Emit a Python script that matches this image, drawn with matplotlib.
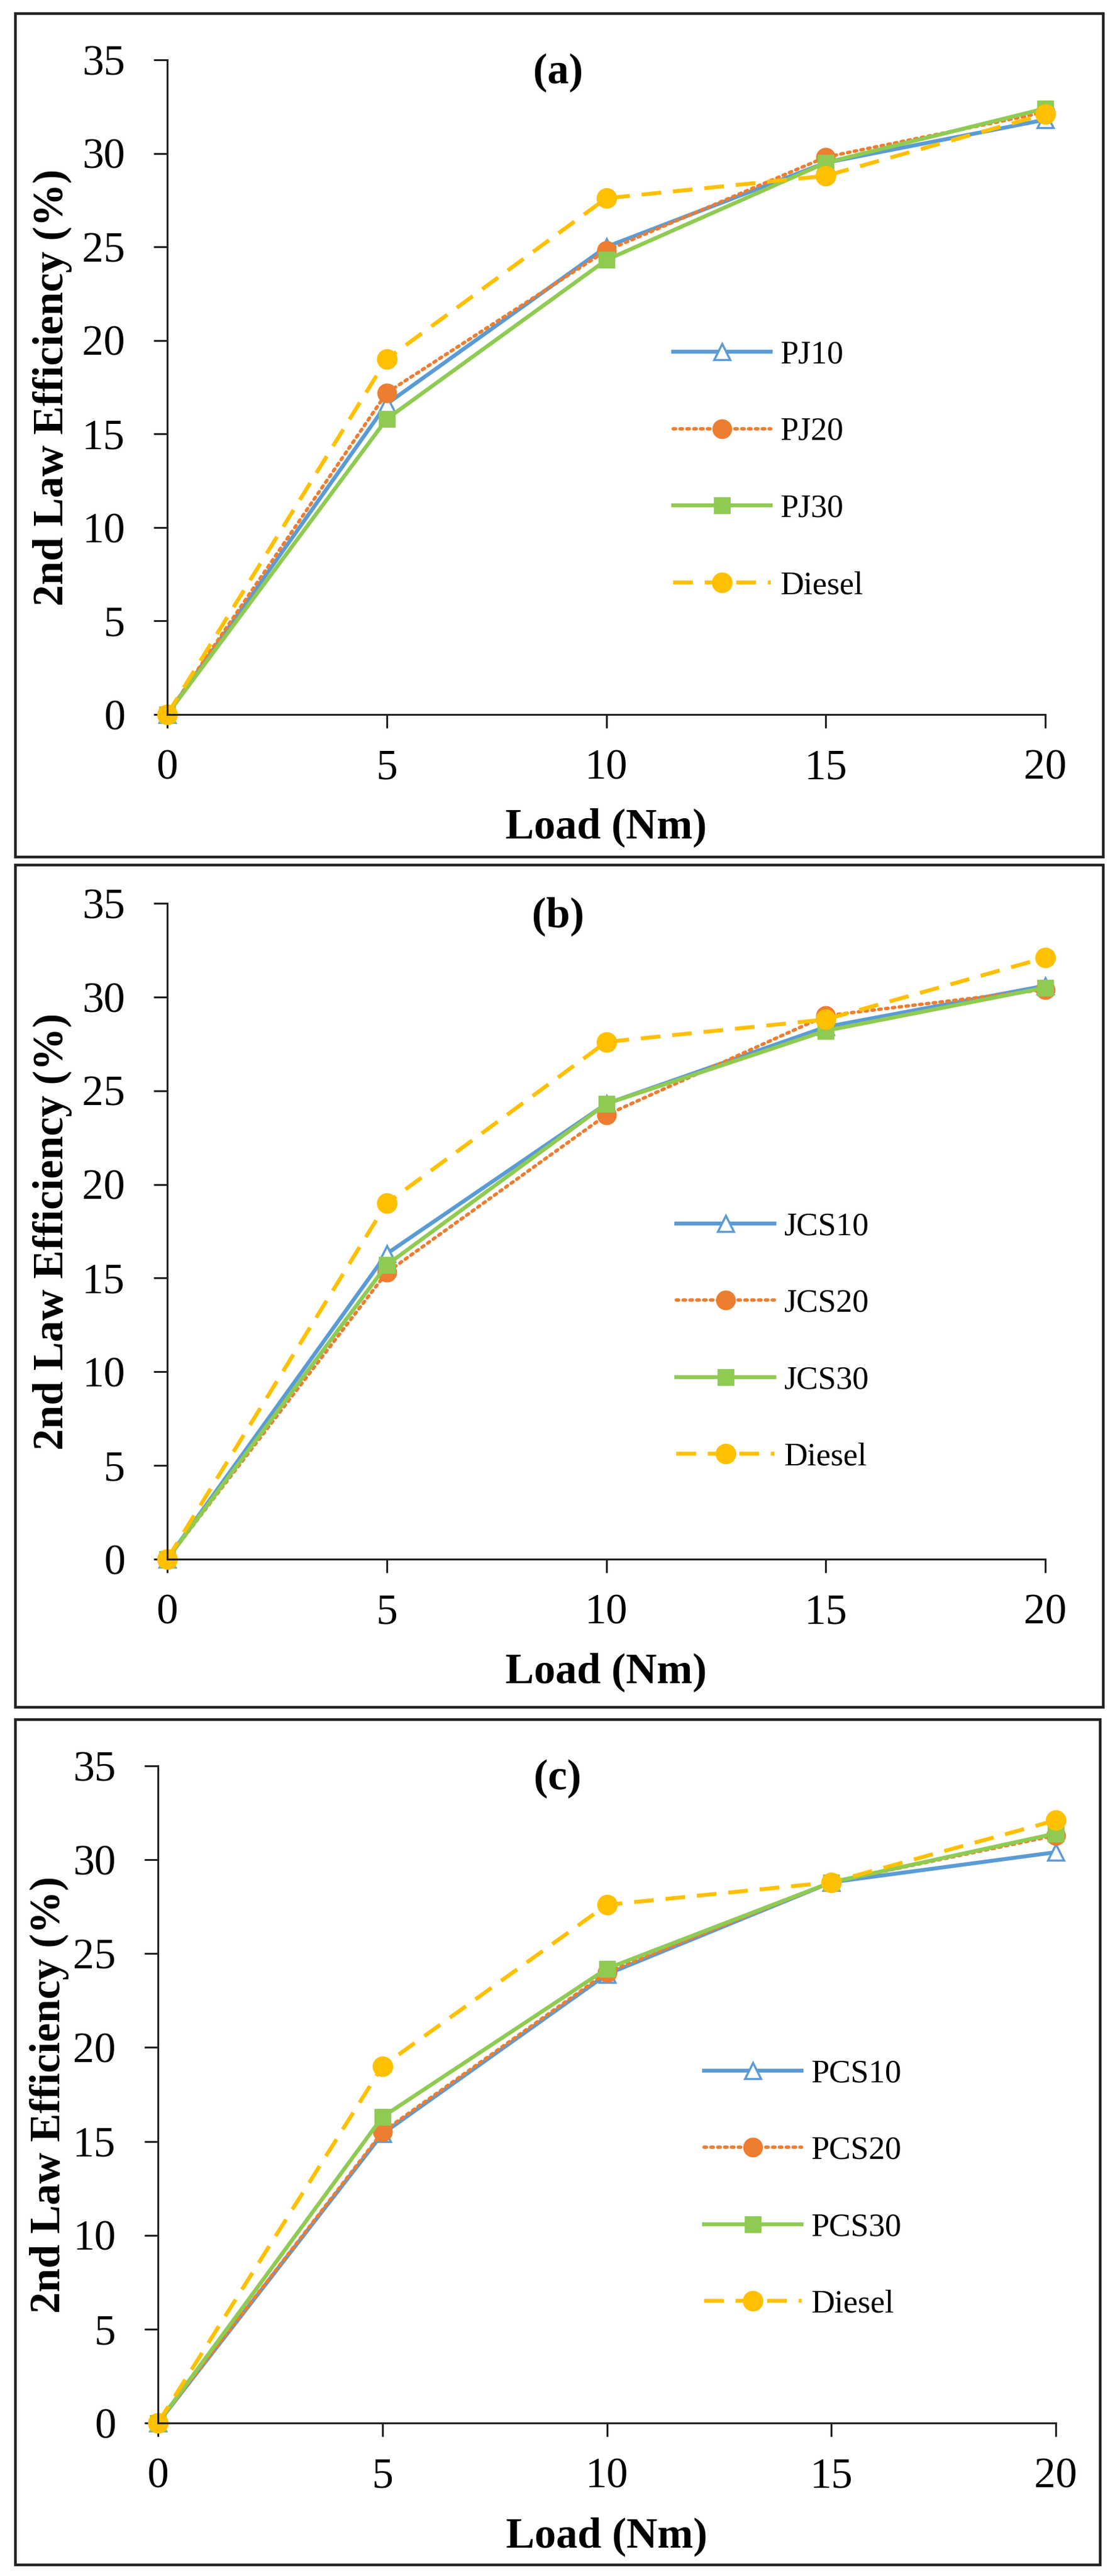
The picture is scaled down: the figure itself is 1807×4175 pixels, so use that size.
import matplotlib
matplotlib.use('Agg')
import matplotlib.pyplot as plt
from matplotlib.patches import Rectangle

plt.rcParams['font.family'] = ['Liberation Serif', 'DejaVu Serif']

#data
load = [0, 5, 10, 15, 20]
diesel = [0, 19.0, 27.6, 28.8, 32.1]

pj10 = [0, 16.6, 25.0, 29.5, 31.8]
pj20 = [0, 17.2, 24.8, 29.8, 32.2]
pj30 = [0, 15.8, 24.3, 29.5, 32.4]

jcs10 = [0, 16.3, 24.3, 28.4, 30.6]
jcs20 = [0, 15.3, 23.7, 29.0, 30.4]
jcs30 = [0, 15.7, 24.3, 28.2, 30.5]

pcs10 = [0, 15.4, 23.9, 28.8, 30.4]
pcs20 = [0, 15.5, 24.0, 28.8, 31.3]
pcs30 = [0, 16.3, 24.2, 28.8, 31.4]

panels = [
    ('(a)', ['PJ10', 'PJ20', 'PJ30'], [pj10, pj20, pj30]),
    ('(b)', ['JCS10', 'JCS20', 'JCS30'], [jcs10, jcs20, jcs30]),
    ('(c)', ['PCS10', 'PCS20', 'PCS30'], [pcs10, pcs20, pcs30]),
]

blue = '#5B9BD5'
orange = '#ED7D31'
green = '#8FCB52'
gold = '#FFC000'

W, H = 1807, 4175
fig = plt.figure(figsize=(W / 100, H / 100), dpi=100)

#axes rectangles [left, bottom, width, height] in figure fraction
axes_pos = [
    [271 / W, 1 - 1158 / H, 1423 / W, 1061 / H],
    [271 / W, 1 - 2527 / H, 1423 / W, 1063 / H],
    [256 / W, 1 - 3927 / H, 1455 / W, 1065 / H],
]
#outer frames around each panel (pixels: x0, y0, x1, y1 from top)
frames = [(25, 22, 1788, 1389), (25, 1402, 1788, 2767), (25, 2787, 1783, 4157)]
#legend anchor (axes fraction)
leg_pos = [(0.576, 0.373), (0.58, 0.331), (0.608, 0.356)]

fs = 50
lw = 4.6

for i, (tag, names, series) in enumerate(panels):
    ax = fig.add_axes(axes_pos[i])
    x0, y0, x1, y1 = frames[i]
    fig.patches.append(Rectangle((x0 / W, 1 - y1 / H), (x1 - x0) / W, (y1 - y0) / H,
                                 transform=fig.transFigure, fill=False,
                                 edgecolor='#222222', linewidth=3.2))

    ax.plot(load, series[0], color=blue, lw=lw, marker='^', ms=19,
            mfc='white', mec=blue, mew=2.5, label=names[0], clip_on=False)
    ax.plot(load, series[1], color=orange, lw=lw - 0.6, ls=(0, (0.7, 1.3)),
            dash_capstyle='round', marker='o', ms=22, mfc=orange, mec=orange,
            label=names[1], clip_on=False)
    ax.plot(load, series[2], color=green, lw=lw, marker='s', ms=19,
            mfc=green, mec=green, label=names[2], clip_on=False)
    ax.plot(load, diesel, color=gold, lw=lw, ls=(0, (5, 3)), marker='o', ms=23,
            mfc=gold, mec=gold, label='Diesel', clip_on=False)

    ax.set_xlim(0, 20)
    ax.set_ylim(0, 35)
    ax.set_xticks(load)
    ax.set_yticks(range(0, 36, 5))
    for s in ['top', 'right']:
        ax.spines[s].set_visible(False)
    for s in ['left', 'bottom']:
        ax.spines[s].set_linewidth(2.2)
        ax.spines[s].set_color('#222222')
    ax.tick_params(axis='both', direction='out', length=16, width=2.2,
                   color='#222222', labelsize=fs)
    ax.tick_params(axis='y', pad=33)
    ax.tick_params(axis='x', pad=24)

    ax.set_xlabel('Load (Nm)', fontsize=fs, fontweight='bold', va='center')
    ax.xaxis.set_label_coords(0.5, -183 / 1061)
    ax.set_ylabel('2nd Law Efficiency (%)', fontsize=fs, fontweight='bold', va='center')
    lx = -0.131 if i < 2 else -0.121
    ax.yaxis.set_label_coords(lx, 0.5)

    ax.text(8.9, 34.3, tag, fontsize=fs, fontweight='bold', ha='center', va='center')

    ax.legend(loc='center left', bbox_to_anchor=leg_pos[i], frameon=False,
              fontsize=38, handlelength=3.0, handletextpad=0.3,
              labelspacing=1.45, borderpad=0, borderaxespad=0)

fig.savefig('out.png', dpi=100)
